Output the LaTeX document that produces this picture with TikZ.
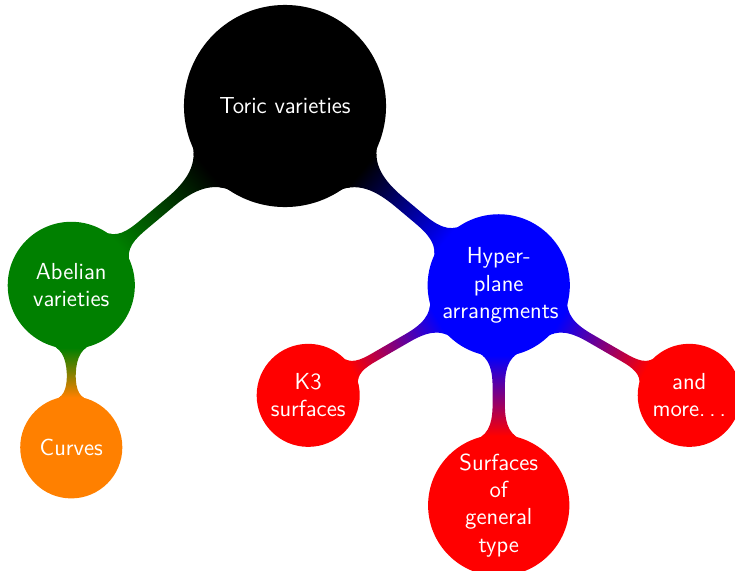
\documentclass[tikz,border=0pt]{standalone}
\usetikzlibrary{mindmap}
\tikzset{%
  topic/.style    = {concept, font=\sffamily\fontsize{13.2}{15.5}\selectfont},%
  subtopic/.style = {concept, font=\sffamily\fontsize{13.2}{15.5}\selectfont}%
}
\begin{document}
\begin{tikzpicture}[mindmap, concept color=black, text=white,
	root concept/.append style={minimum size=4cm, text width=3.5cm},
	level 1 concept/.append style={minimum size=2.5cm, text width=2.25cm, level distance=5.58cm},
	level 2 concept/.append style={minimum size=2cm, text width=1.72cm, level distance=4.4cm}]
	\useasboundingbox (-5.7,-9.28) rectangle (9.0,2.12);
		\node [topic] (toric) at (0,0) {Toric varieties}
			child[grow=220, concept color=green!50!black]{node [topic] (abelian) {Abelian\\varieties}
				child[grow=270, level distance=3.24cm, concept color=orange]{node [subtopic] (curves) {Curves}}
			}
			child[grow=320, concept color=blue]{node [topic] (hyper) {Hyper-\\plane\\arrangments}
				child[grow=210, concept color=red]{node [subtopic] (kthree) {K3\\surfaces}}
				child[grow=270, concept color=red]{node [subtopic] (general) {Surfaces\\of\\general\\type}}
				child[grow=330, concept color=red]{node [subtopic] (more) {and\\more.\,.\,.}}
			};
\end{tikzpicture}
\end{document}
